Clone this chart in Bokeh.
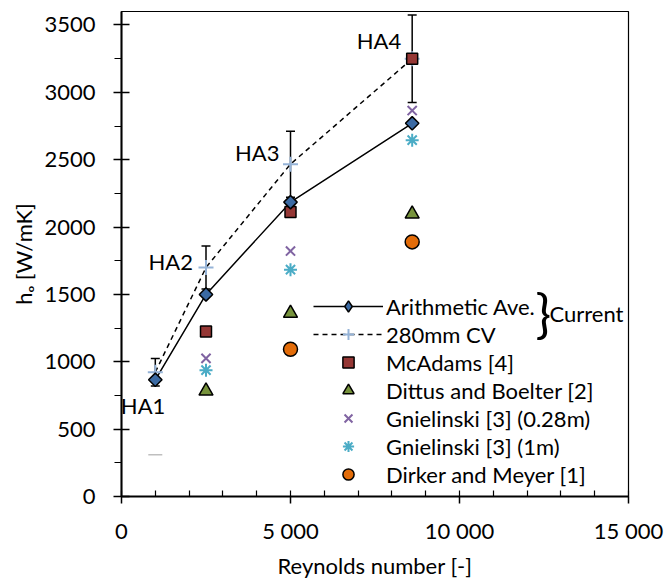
import math
from bokeh.plotting import figure
from bokeh.models import (ColumnDataSource, Whisker, TeeHead, Legend, LegendItem, Label,
                          FixedTicker, Range1d)
from bokeh.core.properties import value
from bokeh.embed import file_html
from bokeh.resources import INLINE

# ---------------- data ----------------
reynolds = [1000, 2500, 5000, 8600]
ha_labels = ["HA1", "HA2", "HA3", "HA4"]
arith_ave = [866, 1500, 2185, 2770]
cv_280mm = [923, 1700, 2467, 3249]
cv_err = [102, 160, 245, 325]

lit_re = [2500, 5000, 8600]
mcadams = [1225, 2112, 3250]
dittus_boelter = [783, 1360, 2097]
gnielinski_028 = [1025, 1822, 2865]
gnielinski_1m = [938, 1684, 2645]
dirker_re = [5000, 8600]
dirker_meyer = [1093, 1890]
stray_re = [1000]
stray_val = [310]

x_ticks = [0, 5000, 10000, 15000]
x_tick_labels = ["0", "5 000", "10 000", "15 000"]
x_minor = list(range(0, 15001, 1000))
y_ticks = [0, 500, 1000, 1500, 2000, 2500, 3000, 3500]
y_minor = list(range(0, 3601, 250))

FONT = "Lato"
FS = "22px"

p = figure(width=667, height=581, x_range=Range1d(0, 15000), y_range=Range1d(0, 3600),
           output_backend="svg", toolbar_location=None,
           min_border_left=121, min_border_right=39, min_border_top=11, min_border_bottom=82)
p.grid.visible = False
p.outline_line_color = "black"
p.outline_line_width = 1.2
p.background_fill_color = "white"
p.border_fill_color = "white"

# axes
xa = p.xaxis[0]
xa.ticker = FixedTicker(ticks=x_ticks, minor_ticks=x_minor)
xa.major_label_overrides = {t: l for t, l in zip(x_ticks, x_tick_labels)}
xa.axis_line_width = 2
xa.major_tick_in = 0
xa.major_tick_out = 7
xa.minor_tick_in = 6
xa.minor_tick_out = 0
xa.major_tick_line_width = 1.5
xa.minor_tick_line_width = 1.2
xa.major_label_text_font = FONT
xa.major_label_text_font_size = FS
xa.major_label_text_color = "black"
xa.major_label_standoff = 13
xa.axis_label = "Reynolds number [-]"
xa.axis_label_text_font = FONT
xa.axis_label_text_font_size = FS
xa.axis_label_text_font_style = "normal"
xa.axis_label_text_color = "black"
xa.axis_label_standoff = 5

ya = p.yaxis[0]
ya.ticker = FixedTicker(ticks=y_ticks, minor_ticks=y_minor)
ya.axis_line_width = 2
ya.major_tick_in = 8
ya.major_tick_out = 8
ya.minor_tick_in = 0
ya.minor_tick_out = 7
ya.major_tick_line_width = 1.5
ya.minor_tick_line_width = 1.2
ya.major_label_text_font = FONT
ya.major_label_text_font_size = FS
ya.major_label_text_color = "black"
ya.major_label_standoff = 18
ya.axis_label = "hₒ [W/mK]"
ya.axis_label_text_font = FONT
ya.axis_label_text_font_size = FS
ya.axis_label_text_font_style = "normal"
ya.axis_label_text_color = "black"
ya.axis_label_standoff = 4

# error bars on the 280mm CV series
err_src = ColumnDataSource(data=dict(
    base=reynolds,
    upper=[v + e for v, e in zip(cv_280mm, cv_err)],
    lower=[v - e for v, e in zip(cv_280mm, cv_err)],
))
wh = Whisker(source=err_src, base="base", upper="upper", lower="lower",
             line_color="black", line_width=1.5, level="underlay",
             upper_head=TeeHead(size=9, line_color="black", line_width=1.5),
             lower_head=TeeHead(size=9, line_color="black", line_width=1.5))
p.add_layout(wh)

# lines
l_cv = p.line(reynolds, cv_280mm, line_color="black", line_width=1.5, line_dash="5 4")
l_av = p.line(reynolds, arith_ave, line_color="black", line_width=1.5)

# markers
s_cv = p.scatter(reynolds, cv_280mm, marker="cross", size=15, line_color="#95B3D7",
                 line_width=2)
s_mc = p.scatter(lit_re, mcadams, marker="square", size=11, fill_color="#953735",
                 line_color="black", line_width=1.5)
s_db = p.scatter(lit_re, dittus_boelter, marker="triangle", size=14, fill_color="#77933C",
                 line_color="black", line_width=1.5)
s_g28 = p.scatter(lit_re, gnielinski_028, marker="x", size=13, line_color="#8064A2",
                  line_width=2)
s_g1 = p.scatter(lit_re, gnielinski_1m, marker="asterisk", size=13, line_color="#4BACC6",
                 line_width=2)
s_dm = p.scatter(dirker_re, dirker_meyer, marker="circle", size=14, fill_color="#E36C09",
                 line_color="black", line_width=1.5)
p.scatter(stray_re, stray_val, marker="dash", size=14, line_color="#BFBFBF", line_width=1.5)
# diamond glyph used for the legend (hidden under the rotated squares in the plot)
s_av_leg = p.scatter(reynolds, arith_ave, marker="diamond", size=11, fill_color="#3B6AA3",
                     line_color="black", line_width=1.5)
s_av = p.scatter(reynolds, arith_ave, marker="square", angle=math.pi / 4, size=9.5,
                 fill_color="#3B6AA3", line_color="black", line_width=1.5)

# HA labels
p.text(x=reynolds, y=arith_ave, text=ha_labels,
       x_offset=[10, -13, -11, -11], y_offset=[26, -33, -50, -83],
       text_align="right", text_baseline="middle",
       text_font=value(FONT), text_font_size=FS, text_color="black")

legend = Legend(items=[
    LegendItem(label="Arithmetic Ave.", renderers=[l_av, s_av_leg]),
    LegendItem(label="280mm CV", renderers=[l_cv, s_cv]),
    LegendItem(label="McAdams [4]", renderers=[s_mc]),
    LegendItem(label="Dittus and Boelter [2]", renderers=[s_db]),
    LegendItem(label="Gnielinski [3] (0.28m)", renderers=[s_g28]),
    LegendItem(label="Gnielinski [3] (1m)", renderers=[s_g1]),
    LegendItem(label="Dirker and Meyer [1]", renderers=[s_dm]),
], location=(192, 8), glyph_width=70, glyph_height=28, label_height=28, spacing=0,
    padding=0, margin=0, label_standoff=3, border_line_alpha=0, background_fill_alpha=0,
    label_text_font=FONT, label_text_font_size=FS, label_text_color="black")
p.add_layout(legend)

# brace + "Current"
p.add_layout(Label(x=414, y=499 - 314, x_units="screen", y_units="screen",
                   text="}", text_font=FONT, text_font_size="52px", text_baseline="middle",
                   text_color="black"))
p.add_layout(Label(x=428, y=499 - 316, x_units="screen", y_units="screen",
                   text="Current", text_font=FONT, text_font_size=FS, text_baseline="middle",
                   text_color="black"))

open("out.html", "w").write(file_html(p, INLINE))
